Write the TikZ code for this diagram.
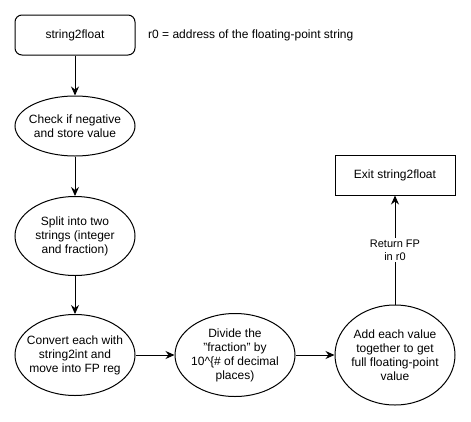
\documentclass[tikz,border=0pt]{standalone}
\usepackage{fontspec}
\setmainfont{Liberation Sans}
\usetikzlibrary{shapes.geometric,arrows.meta}
\begin{document}
\begin{tikzpicture}[x=1pt,y=-1pt,
  every node/.style={font=\fontsize{12}{14}\selectfont, align=center, inner sep=0pt},
  ell/.style={draw, ellipse, line width=1pt, minimum width=120pt},
  rbox/.style={draw, rounded corners=7pt, line width=1pt, minimum width=120pt, minimum height=40pt},
  sbox/.style={draw, line width=1pt, minimum width=120pt, minimum height=40pt},
  arr/.style={line width=1pt, -{Stealth[length=9pt,width=8pt,inset=3pt]}}]
\useasboundingbox (0,0) rectangle (471,421);
\node[rbox] (start) at (75,35) {string2float};
\node[anchor=west] (note) at (148,35) {r0 = address of the floating-point string};
\node[ell, minimum height=60pt, label=center:{Check if negative\\and store value}] (neg) at (75,126) {};
\node[ell, minimum height=79pt, label=center:{Split into two\\strings (integer\\and fraction)}] (split) at (75,236) {};
\node[ell, minimum height=81pt, label=center:{Convert each with\\string2int and\\move into FP reg}] (conv) at (75,355) {};
\node[ell, minimum height=83pt, label=center:{Divide the\\"fraction" by\\10\string^\{\# of decimal\\places)}] (div) at (235,355) {};
\node[ell, minimum height=100pt, label=center:{Add each value\\together to get\\full floating-point\\value}] (add) at (395,355) {};
\node[sbox] (exit) at (395,175) {Exit string2float};
\draw[arr] (start) -- (neg);
\draw[arr] (neg) -- (split);
\draw[arr] (split) -- (conv);
\draw[arr] (conv) -- (div);
\draw[arr] (div) -- (add);
\draw[arr] (add) -- node[fill=white, inner sep=2pt, font=\fontsize{11}{13}\selectfont] (ret) {Return FP\\in r0} (exit);
\end{tikzpicture}
\end{document}
